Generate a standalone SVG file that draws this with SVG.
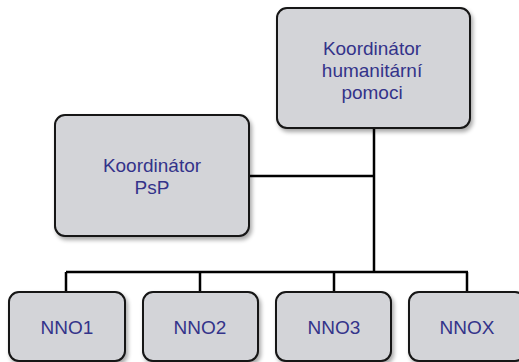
<svg xmlns="http://www.w3.org/2000/svg" width="519" height="362" viewBox="0 0 519 362">
<defs>
<filter id="sh" x="-10%" y="-10%" width="130%" height="130%">
<feGaussianBlur in="SourceAlpha" stdDeviation="2"/>
<feOffset dx="2" dy="3" result="b"/>
<feComponentTransfer><feFuncA type="linear" slope="0.35"/></feComponentTransfer>
<feMerge><feMergeNode/><feMergeNode in="SourceGraphic"/></feMerge>
</filter>
</defs>
<style>
.box{fill:#d3d4d8;stroke:#141414;stroke-width:2;filter:url(#sh)}
.t{font-family:"Liberation Sans",Arial,sans-serif;font-size:19px;fill:#33338a;text-anchor:middle}
.c{stroke:#000;stroke-width:2.5;fill:none}
</style>
<rect width="519" height="362" fill="#fff"/>
<g id="connectors">
<path class="c" d="M374 128V272M249 176H374M66 272H468M66 272V292M200 272V292M334 272V292M467 272V292"/>
</g>
<g id="koord-hum">
<rect class="box" x="277" y="8" width="193" height="120" rx="10"/>
<text class="t" x="372" y="55">Koordinátor</text>
<text class="t" x="372" y="77">humanitární</text>
<text class="t" x="372" y="99">pomoci</text>
</g>
<g id="koord-psp">
<rect class="box" x="55" y="115" width="194" height="121" rx="10"/>
<text class="t" x="152" y="172">Koordinátor</text>
<text class="t" x="152" y="194">PsP</text>
</g>
<g id="nno1">
<rect class="box" x="9" y="292" width="116" height="69" rx="10"/>
<text class="t" x="67" y="334">NNO1</text>
</g>
<g id="nno2">
<rect class="box" x="143" y="292" width="115" height="69" rx="10"/>
<text class="t" x="200" y="334">NNO2</text>
</g>
<g id="nno3">
<rect class="box" x="276" y="292" width="115" height="69" rx="10"/>
<text class="t" x="334" y="334">NNO3</text>
</g>
<g id="nnox">
<rect class="box" x="409" y="292" width="116" height="69" rx="10"/>
<text class="t" x="467" y="334">NNOX</text>
</g>
</svg>
